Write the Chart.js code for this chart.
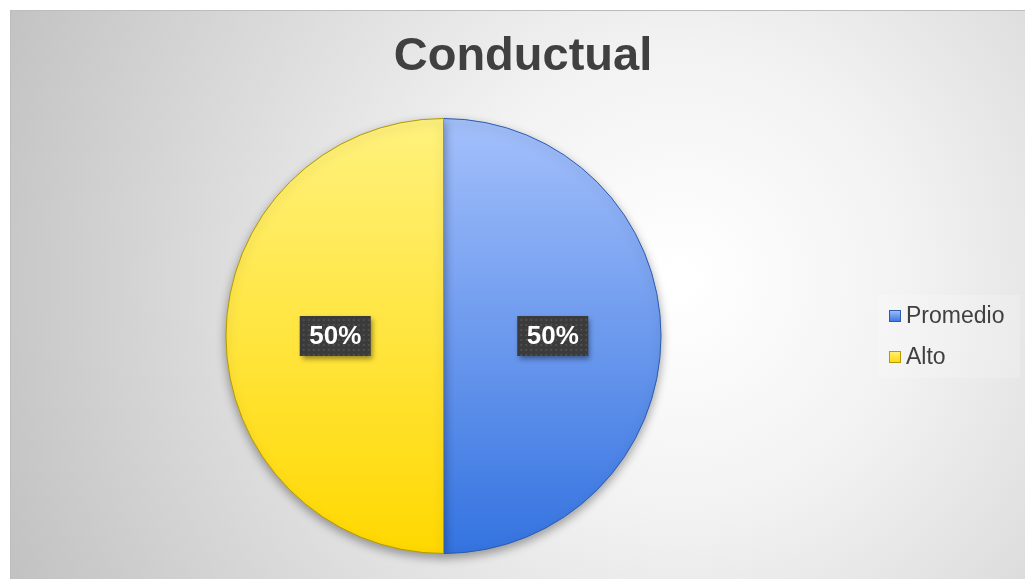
<!DOCTYPE html>
<html>
<head>
<meta charset="utf-8">
<script src="https://cdn.jsdelivr.net/npm/chart.js@4/dist/chart.umd.min.js"></script>
<style>
  html, body { margin: 0; padding: 0; background: #fff; }
  #wrap { width: 1025px; height: 581px; }
</style>
</head>
<body>
<div id="wrap"><canvas id="pieChart" width="1025" height="581"></canvas></div>
<script>
const chartTitle = 'Conductual';
const labels = ['Promedio', 'Alto'];
const values = [50, 50];
const topColors = ['#a4c0fb', '#fff27e'];
const bottomColors = ['#3473e0', '#ffd800'];
const borderColors = ['#2c5cb0', '#b39a00'];

// chart background with soft radial light
const backgroundPlugin = {
    id: 'bg',
    beforeDraw(chart) {
        const ctx = chart.ctx;
        ctx.save();
        ctx.fillStyle = '#ffffff';
        ctx.fillRect(0, 0, chart.width, chart.height);
        const g = ctx.createRadialGradient(680, 280, 10, 680, 280, 760);
        g.addColorStop(0, '#ffffff');
        g.addColorStop(0.3, '#f2f2f2');
        g.addColorStop(1, '#bfbfbf');
        ctx.fillStyle = g;
        ctx.fillRect(10, 10, chart.width - 10, chart.height - 12);
        ctx.fillStyle = '#bdbdbd';
        ctx.fillRect(10, 10, chart.width - 10, 1);
        ctx.fillRect(10, 10, 1, chart.height - 12);
        ctx.restore();
    },
    beforeDatasetsDraw(chart) {
        const ctx = chart.ctx;
        ctx.save();
        ctx.shadowColor = 'rgba(0,0,0,0.35)';
        ctx.shadowBlur = 10;
        ctx.shadowOffsetY = 4;
    },
    afterDatasetsDraw(chart) {
        chart.ctx.restore();
    }
};

// title, value labels and legend
const overlayPlugin = {
    id: 'overlay',
    afterDraw(chart) {
        const ctx = chart.ctx;
        ctx.save();
        ctx.fillStyle = '#404040';
        ctx.font = 'bold 47px "Liberation Sans", Arial, sans-serif';
        ctx.textAlign = 'center';
        ctx.textBaseline = 'middle';
        ctx.fillText(chartTitle, 523, 57);

        const meta = chart.getDatasetMeta(0);
        const total = values.reduce((a, b) => a + b, 0);
        meta.data.forEach((arc, i) => {
            const p = arc.tooltipPosition();
            const txt = Math.round(values[i] / total * 100) + '%';
            ctx.save();
            ctx.shadowColor = 'rgba(0,0,0,0.4)';
            ctx.shadowBlur = 5;
            ctx.shadowOffsetX = 2;
            ctx.shadowOffsetY = 3;
            ctx.fillStyle = '#3b3b3b';
            ctx.fillRect(p.x - 35, p.y - 20, 71, 40);
            ctx.restore();
            ctx.fillStyle = '#4e4e4e';
            for (let x = p.x - 32; x < p.x + 35; x += 5) {
                for (let y = p.y - 17; y < p.y + 19; y += 5) {
                    ctx.fillRect(x, y, 2, 2);
                }
            }
            ctx.fillStyle = '#ffffff';
            ctx.font = 'bold 26px "Liberation Sans", Arial, sans-serif';
            ctx.textAlign = 'center';
            ctx.textBaseline = 'middle';
            ctx.fillText(txt, p.x + 0.5, p.y + 1);
        });

        ctx.fillStyle = 'rgba(255,255,255,0.18)';
        ctx.fillRect(878, 295, 142, 83);
        labels.forEach((lab, i) => {
            const y = 316 + i * 41;
            const g = ctx.createLinearGradient(0, y - 6, 0, y + 6);
            g.addColorStop(0, topColors[i]);
            g.addColorStop(1, bottomColors[i]);
            ctx.fillStyle = g;
            ctx.fillRect(889, y - 6, 12, 12);
            ctx.strokeStyle = borderColors[i];
            ctx.lineWidth = 1;
            ctx.strokeRect(889.5, y - 5.5, 11, 11);
            ctx.fillStyle = '#404040';
            ctx.font = '23px "Liberation Sans", Arial, sans-serif';
            ctx.textAlign = 'left';
            ctx.textBaseline = 'middle';
            ctx.fillText(lab, 906, y + 1);
        });
        ctx.restore();
    }
};

function sliceFill(context) {
    const chart = context.chart;
    const area = chart.chartArea;
    const i = context.dataIndex;
    if (!area) return bottomColors[i];
    const g = chart.ctx.createLinearGradient(0, area.top, 0, area.bottom);
    g.addColorStop(0, topColors[i]);
    g.addColorStop(1, bottomColors[i]);
    return g;
}

const ctx = document.getElementById('pieChart').getContext('2d');
new Chart(ctx, {
    type: 'pie',
    data: {
        labels: labels,
        datasets: [{
            data: values,
            backgroundColor: sliceFill,
            borderColor: borderColors,
            borderWidth: 1
        }]
    },
    options: {
        responsive: false,
        animation: false,
        layout: {
            padding: { top: 118, bottom: 27, left: 225, right: 363 }
        },
        plugins: {
            legend: { display: false },
            tooltip: { enabled: false },
            title: { display: false }
        }
    },
    plugins: [backgroundPlugin, overlayPlugin]
});
</script>
</body>
</html>
